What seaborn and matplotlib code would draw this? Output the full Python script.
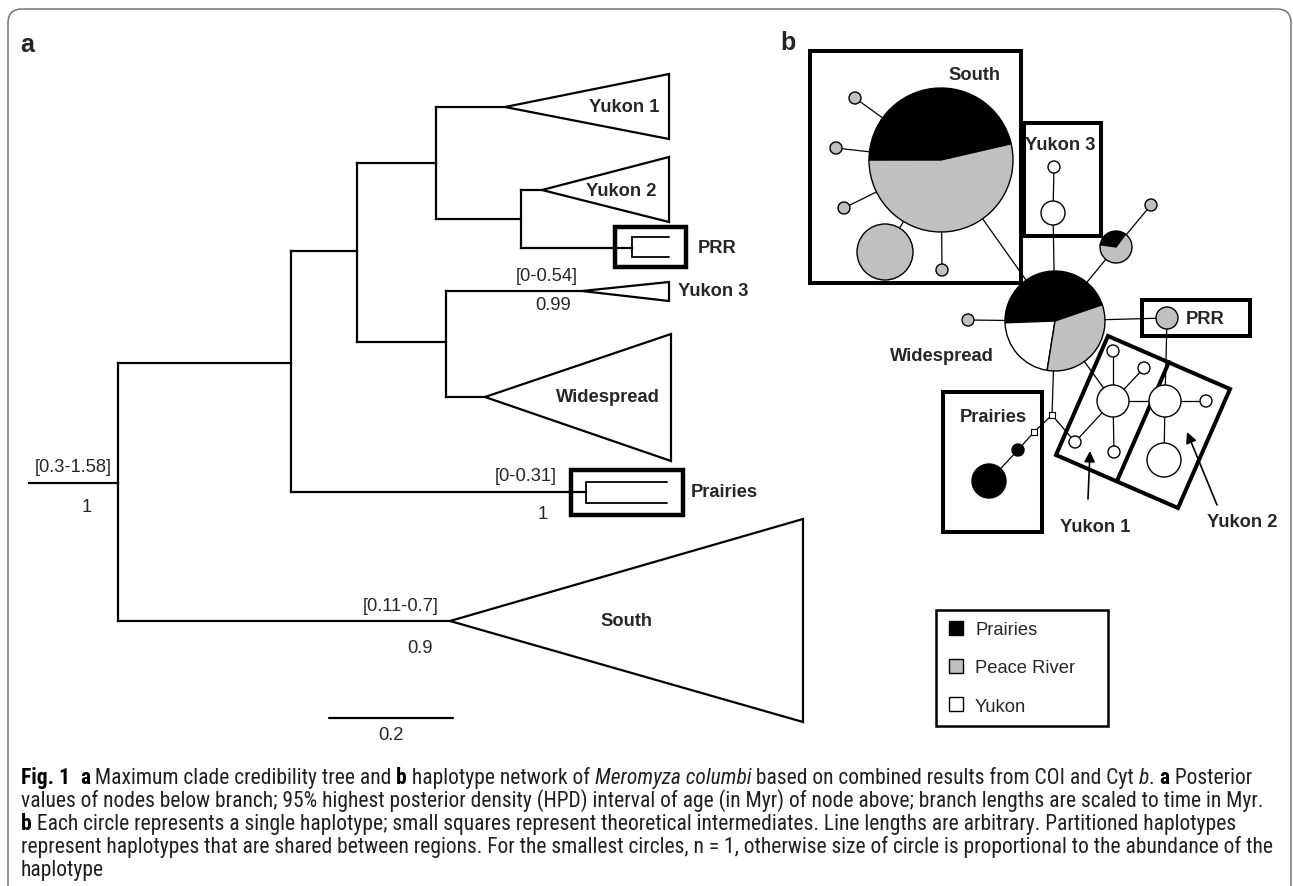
import matplotlib
matplotlib.use("Agg")
import matplotlib.pyplot as plt
import seaborn as sns
import pandas as pd
from matplotlib.patches import Polygon, Rectangle, FancyBboxPatch
from matplotlib.lines import Line2D
from matplotlib.font_manager import FontProperties, findfont

W, H = 1293, 887

# ---------- panel a: collapsed time tree (pixel positions, y grows downwards) ----------
# horizontal branches: y, x start, x end
branch_y = [484, 364, 622, 252, 493, 164, 343, 108, 220, 191, 249, 292, 398]
branch_x0 = [29, 118, 118, 291, 291, 357, 357, 436, 436, 521, 521, 446, 446]
branch_x1 = [118, 291, 450, 357, 586, 436, 446, 505, 521, 542, 632, 582, 485]
# vertical connectors at the internal nodes
node_x = [118, 291, 357, 436, 521, 446]
node_y0 = [364, 252, 164, 108, 191, 292]
node_y1 = [622, 493, 343, 220, 249, 398]

# collapsed clades drawn as triangles
clade_names = ['Yukon 1', 'Yukon 2', 'Yukon 3', 'Widespread', 'South']
clade_apex_x = [505, 542, 582, 485, 450]
clade_mid_y = [108, 191, 292, 398, 622]
clade_tip_x = [669, 669, 669, 671, 803]
clade_top_y = [75, 158, 283, 335, 520]
clade_bot_y = [140, 223, 302, 462, 723]
clade_lab_x = [624, 621, 678, 608, 626]
clade_lab_ha = ['center', 'center', 'left', 'center', 'center']

# two-tip clades shown inside a heavy box
boxed_names = ['PRR', 'Prairies']
boxed_x0 = [615, 571]
boxed_x1 = [686, 683]
boxed_y0 = [228, 471]
boxed_y1 = [268, 516]
boxed_fork_x = [632, 586]
boxed_tip_x = [669, 667]
boxed_fork_y0 = [238, 483]
boxed_fork_y1 = [258, 504]
boxed_lab_x = [698, 691]
boxed_lab_y = [249, 493]

# node annotations: HPD interval above, posterior below
hpd_labels = ['[0.3-1.58]', '[0-0.54]', '[0-0.31]', '[0.11-0.7]']
hpd_x = [73, 547, 526, 401]
hpd_y = [468, 277, 477, 607]
post_labels = ['1', '0.99', '1', '0.9']
post_x = [87, 553, 543, 420]
post_y = [508, 306, 515, 649]

scale_x = [329, 453]
scale_y = 719
scale_label = '0.2'

# ---------- panel b: haplotype network ----------
regions = ['Prairies', 'Yukon', 'Peace River']
region_colors = {'Prairies': 'black', 'Peace River': '#c0c0c0', 'Yukon': 'white'}

hap_names = ['s1', 's2', 's3', 's4', 's5', 'w1', 'p1', 'y3a', 'y3b', 'prr',
             'pr1', 'pr2', 'Y1', 'y1a', 'y1b', 'y1c', 'y1d', 'Y2', 'y2a', 'y2b']
hap_x = [855, 836, 844, 942, 885, 968, 1151, 1054, 1053, 1167,
         1018, 989, 1113, 1113, 1144, 1114, 1075, 1165, 1206, 1164]
hap_y = [99, 149, 209, 271, 253, 321, 206, 168, 214, 319,
         451, 482, 402, 352, 369, 453, 443, 402, 402, 461]
hap_r = [6, 6, 6, 6, 28, 6, 6, 6, 12, 11, 6, 17, 16, 6, 6, 6, 6, 16, 6, 17]
hap_region = (['Peace River'] * 7 + ['Yukon', 'Yukon', 'Peace River', 'Prairies', 'Prairies']
              + ['Yukon'] * 8)

# shared haplotypes (pies): fractions in order Prairies, Yukon, Peace River
pie_names = ['S0', 'W0', 'P']
pie_x = [941, 1055, 1116]
pie_y = [161, 322, 248]
pie_r = [72, 50, 16]
pie_start = [13, 19, 53]
pie_fracs = [[0.464, 0.0, 0.536], [0.453, 0.219, 0.328], [0.33, 0.0, 0.67]]

inter_names = ['q1', 'q2']
inter_x = [1052, 1034]
inter_y = [416, 433]

edges = [('S0', 's1'), ('S0', 's2'), ('S0', 's3'), ('S0', 's4'), ('S0', 's5'), ('S0', 'W0'),
         ('W0', 'w1'), ('W0', 'P'), ('P', 'p1'), ('W0', 'y3b'), ('y3b', 'y3a'), ('W0', 'prr'),
         ('W0', 'q1'), ('W0', 'Y1'), ('q1', 'q2'), ('q2', 'pr1'), ('pr1', 'pr2'), ('q1', 'y1d'),
         ('Y1', 'y1a'), ('Y1', 'y1b'), ('Y1', 'y1c'), ('Y1', 'y1d'), ('Y1', 'Y2'),
         ('Y2', 'prr'), ('Y2', 'y2a'), ('Y2', 'y2b')]

group_names = ['South', 'Yukon 3', 'PRR', 'Prairies']
group_x0 = [810, 1024, 1142, 943]
group_x1 = [1021, 1101, 1250, 1042]
group_y0 = [52, 124, 301, 393]
group_y1 = [284, 237, 337, 533]
yukon_box = [(1108, 337), (1230, 390), (1178, 509), (1056, 456)]
yukon_divider = [(1169, 363), (1117, 482)]

net_labels = ['South', 'Yukon 3', 'Widespread', 'PRR', 'Prairies', 'Yukon 1', 'Yukon 2']
net_lab_x = [974, 1060, 942, 1205, 993, 1095, 1242]
net_lab_y = [75, 146, 357, 320, 418, 528, 523]

arrow_from = [(1088, 500), (1217, 506)]
arrow_to = [(1090, 452), (1187, 433)]

caption_lines = [
    [('Fig. 1', 'b'), ('  ', 'r'), ('a', 'b'), (' Maximum clade credibility tree and ', 'r'), ('b', 'b'),
     (' haplotype network of ', 'r'), ('Meromyza columbi', 'i'),
     (' based on combined results from COI and Cyt ', 'r'), ('b', 'i'), ('. ', 'r'), ('a', 'b'),
     (' Posterior', 'r')],
    [('values of nodes below branch; 95% highest posterior density (HPD) interval of age (in Myr) '
      'of node above; branch lengths are scaled to time in Myr.', 'r')],
    [('b', 'b'), (' Each circle represents a single haplotype; small squares represent theoretical '
                  'intermediates. Line lengths are arbitrary. Partitioned haplotypes', 'r')],
    [('represent haplotypes that are shared between regions. For the smallest circles, n = 1, '
      'otherwise size of circle is proportional to the abundance of the', 'r')],
    [('haplotype', 'r')],
]
caption_baseline = [784, 807, 830, 853, 876]

# ---------------------------------------------------------------------------
sns.set_theme(style='white')
plt.rcParams['font.family'] = ['Liberation Sans', 'DejaVu Sans']

fig = plt.figure(figsize=(W / 100, H / 100), dpi=100)
ax = fig.add_axes([0, 0, 1, 1])
ax.set_xlim(0, W)
ax.set_ylim(H, 0)
ax.axis('off')

# outer rounded frame
ax.add_patch(FancyBboxPatch((8, 10), 1283, 920, boxstyle='round,pad=0,rounding_size=14',
                            ec='#767676', fc='none', lw=1.1, clip_on=False))
ax.text(20, 45, 'a', fontsize=18, fontweight='bold', va='center', ha='left')
ax.text(780, 43, 'b', fontsize=18, fontweight='bold', va='center', ha='left')

# tree
tree_lw = 1.6
ax.hlines(branch_y, branch_x0, branch_x1, color='black', lw=tree_lw, capstyle='projecting')
ax.vlines(node_x, node_y0, node_y1, color='black', lw=tree_lw, capstyle='projecting')
for i, name in enumerate(clade_names):
    tri = [(clade_apex_x[i], clade_mid_y[i]), (clade_tip_x[i], clade_top_y[i]),
           (clade_tip_x[i], clade_bot_y[i])]
    ax.add_patch(Polygon(tri, closed=True, fill=False, ec='black', lw=tree_lw, joinstyle='miter'))
    ax.text(clade_lab_x[i], clade_mid_y[i], name, fontsize=13.2, fontweight='bold',
            ha=clade_lab_ha[i], va='center')
for i, name in enumerate(boxed_names):
    ax.add_patch(Rectangle((boxed_x0[i], boxed_y0[i]), boxed_x1[i] - boxed_x0[i],
                           boxed_y1[i] - boxed_y0[i], fill=False, ec='black', lw=3.2,
                           joinstyle='miter'))
    ax.plot([boxed_tip_x[i], boxed_fork_x[i], boxed_fork_x[i], boxed_tip_x[i]],
            [boxed_fork_y0[i], boxed_fork_y0[i], boxed_fork_y1[i], boxed_fork_y1[i]],
            color='black', lw=1.3, solid_joinstyle='miter')
    ax.text(boxed_lab_x[i], boxed_lab_y[i], name, fontsize=13.2, fontweight='bold',
            ha='left', va='center')
for lab, x, y in zip(hpd_labels, hpd_x, hpd_y):
    ax.text(x, y, lab, fontsize=13.2, ha='center', va='center')
for lab, x, y in zip(post_labels, post_x, post_y):
    ax.text(x, y, lab, fontsize=13.2, ha='center', va='center')
ax.plot(scale_x, [scale_y, scale_y], color='black', lw=tree_lw)
ax.text(sum(scale_x) / 2, scale_y + 17, scale_label, fontsize=13.2, ha='center', va='center')

# network
pos = {n: (x, y) for n, x, y in zip(hap_names, hap_x, hap_y)}
pos.update({n: (x, y) for n, x, y in zip(pie_names, pie_x, pie_y)})
pos.update({n: (x, y) for n, x, y in zip(inter_names, inter_x, inter_y)})
for a, b in edges:
    ax.plot([pos[a][0], pos[b][0]], [pos[a][1], pos[b][1]], color='black', lw=0.9, zorder=1)

for i in range(len(pie_names)):
    fr = [f for f in pie_fracs[i] if f > 0]
    cols = [region_colors[r] for r, f in zip(regions, pie_fracs[i]) if f > 0]
    ax.pie(fr, colors=cols, center=(pie_x[i], pie_y[i]), radius=pie_r[i],
           startangle=-pie_start[i], counterclock=False, frame=True,
           wedgeprops=dict(edgecolor='black', linewidth=1.0, zorder=3))

haps = pd.DataFrame({'x': hap_x, 'y': hap_y, 'r': hap_r, 'region': hap_region})
sns.scatterplot(data=haps, x='x', y='y', hue='region', palette=region_colors, size='r',
                sizes={r: (1.44 * r) ** 2 for r in set(hap_r)}, edgecolor='black',
                linewidth=1.0, legend=False, ax=ax, zorder=3)
ax.scatter(inter_x, inter_y, marker='s', s=14, facecolor='white', edgecolor='black',
           linewidth=0.8, zorder=4)

for i in range(len(group_names)):
    ax.add_patch(Rectangle((group_x0[i], group_y0[i]), group_x1[i] - group_x0[i],
                           group_y1[i] - group_y0[i], fill=False, ec='black', lw=2.9,
                           joinstyle='miter', zorder=2))
ax.add_patch(Polygon(yukon_box, closed=True, fill=False, ec='black', lw=2.9,
                     joinstyle='miter', zorder=2))
ax.plot([p[0] for p in yukon_divider], [p[1] for p in yukon_divider], color='black',
        lw=2.9, zorder=2)
for lab, x, y in zip(net_labels, net_lab_x, net_lab_y):
    ax.text(x, y, lab, fontsize=13.2, fontweight='bold', ha='center', va='center', zorder=5)
for s, e in zip(arrow_from, arrow_to):
    ax.annotate('', xy=e, xytext=s,
                arrowprops=dict(arrowstyle='-|>', lw=1.2, color='black', mutation_scale=16,
                                shrinkA=0, shrinkB=0))

handles = [Line2D([], [], ls='', marker='s', markersize=10.5, markerfacecolor=region_colors[r],
                  markeredgecolor='black', markeredgewidth=1.0, label=r)
           for r in ['Prairies', 'Peace River', 'Yukon']]
leg = ax.legend(handles=handles, loc='upper left', mode='expand',
                bbox_to_anchor=(936 / W, 1 - 723 / H, 172 / W, 112 / H),
                frameon=True, fancybox=False, edgecolor='black', framealpha=1,
                borderpad=0.62, labelspacing=1.15, handlelength=0.95, handletextpad=0.56,
                borderaxespad=0, prop={'size': 13.2})
leg.get_frame().set_linewidth(1.8)


# caption with mixed bold / italic runs
def has_font(name):
    try:
        findfont(FontProperties(family=name), fallback_to_default=False)
        return True
    except Exception:
        return False


cap_family = next((f for f in ['Liberation Sans Narrow', 'Roboto Condensed', 'Open Sans']
                   if has_font(f)), 'DejaVu Sans')
style_kw = {'r': dict(weight='normal', style='normal'),
            'b': dict(weight='bold', style='normal'),
            'i': dict(weight='normal', style='italic')}
renderer = fig.canvas.get_renderer()


def run_width(text, kind, size):
    prop = FontProperties(family=cap_family, size=size, **style_kw[kind])
    w1 = renderer.get_text_width_height_descent('|' + text + '|', prop, ismath=False)[0]
    w0 = renderer.get_text_width_height_descent('||', prop, ismath=False)[0]
    return w1 - w0


ref = sum(run_width(t, k, 10) for t, k in caption_lines[1])
cap_size = 10 * 1241 / ref
for runs, yb in zip(caption_lines, caption_baseline):
    x = 21
    for text, kind in runs:
        ax.text(x, yb, text, fontsize=cap_size, family=cap_family, va='baseline', ha='left',
                color='black' if kind == 'b' else '#231f20', **style_kw[kind])
        x += run_width(text, kind, cap_size)

ax.set_xlim(0, W)
ax.set_ylim(H, 0)
fig.savefig('out.png', dpi=100)
